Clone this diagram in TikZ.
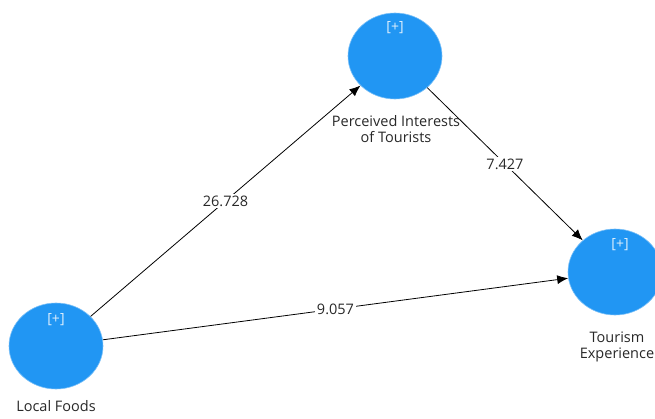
\documentclass[tikz,border=0pt]{standalone}
\usepackage{fontspec}
\setmainfont{Open Sans}
\usetikzlibrary{shapes.geometric,arrows.meta}
\definecolor{lvblue}{RGB}{33,150,243}
\definecolor{txtgray}{RGB}{40,40,40}
\tikzset{
  latent/.style={ellipse, fill=lvblue, draw=lvblue!60, line width=0.6pt, minimum width=94pt, minimum height=86pt, inner sep=0pt},
  plus/.style={text=white!85!lvblue, font=\fontsize{14}{16}\selectfont},
  caption/.style={text=txtgray, font=\fontsize{14.5}{16}\selectfont, align=center, inner sep=0pt},
  path/.style={draw=black, line width=0.8pt, -{Latex[length=11pt,width=9pt]}},
  coef/.style={fill=white, text=txtgray, font=\fontsize{14.5}{16}\selectfont, inner sep=1.5pt, pos=0.5}
}
\begin{document}
\begin{tikzpicture}[x=1pt,y=1pt]
\useasboundingbox (0,0) rectangle (655,418);
\fill[white] (0,0) rectangle (655,418);
% nodes
\node[latent] (lf) at (56,72) {};
\node[latent] (pi) at (395,362) {};
\node[latent] (te) at (615,146) {};
% [+] marks
\node[plus] (lfp) at (56,98) {[+]};
\node[plus] (pip) at (395,390) {[+]};
\node[plus] (tep) at (620,173) {[+]};
% captions
\node[caption] (lfc) at (56,12) {Local Foods};
\node[caption] (pic) at (396,289) {Perceived Interests\\of Tourists};
\node[caption] (tec) at (617,71) {Tourism\\Experience};
% paths
\draw[path] (lf) -- node[coef] (c1) {26.728} (pi);
\draw[path] (pi) -- node[coef] (c2) {7.427} (te);
\draw[path] (lf) -- node[coef] (c3) {9.057} (te);
\end{tikzpicture}
\end{document}
